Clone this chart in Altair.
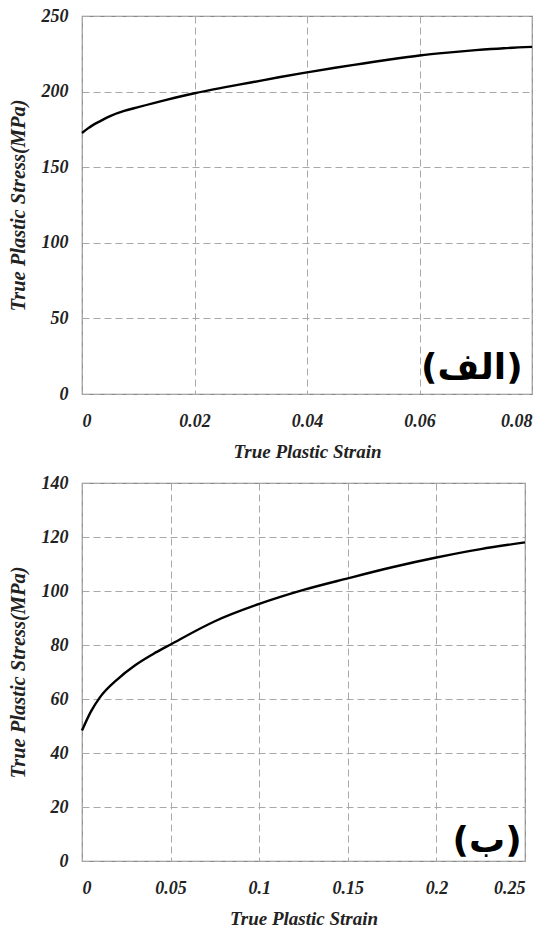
import altair as alt
import pandas as pd

# Panel (الف)
strain_a = [0.0, 0.001, 0.002, 0.003, 0.005, 0.0075, 0.01, 0.015, 0.02, 0.025, 0.03,
            0.035, 0.04, 0.045, 0.05, 0.055, 0.06, 0.065, 0.07, 0.075, 0.08]
stress_a = [172.6, 175.5, 178.0, 180.0, 183.8, 187.2, 189.7, 194.5, 198.9, 202.6, 206.0,
            209.5, 212.7, 215.8, 218.6, 221.4, 223.9, 225.8, 227.4, 228.7, 229.6]

# Panel (ب)
strain_b = [0.0, 0.005, 0.01, 0.02, 0.03, 0.04, 0.05, 0.075, 0.1, 0.125,
            0.15, 0.175, 0.2, 0.225, 0.25]
stress_b = [48.3, 55.3, 60.5, 67.3, 72.5, 76.6, 80.2, 88.8, 95.2, 100.4,
            104.7, 108.8, 112.4, 115.5, 118.0]

x_ticks_a = [0, 0.02, 0.04, 0.06, 0.08]
y_ticks_a = [0, 50, 100, 150, 200, 250]
x_ticks_b = [0, 0.05, 0.1, 0.15, 0.2, 0.25]
y_ticks_b = [0, 20, 40, 60, 80, 100, 120, 140]

tag_a = ["(الف)"]
tag_a_pos = [0.0693, 17.2]
tag_b = ["(ب)"]
tag_b_pos = [0.2286, 7.4]

SERIF = "'Liberation Serif', 'Times New Roman', 'DejaVu Serif', serif"


def panel(xs, ys, xdom, xticks, ydom, yticks, w, h, tag, tagpos):
    df = pd.DataFrame({"strain": xs, "stress": ys})
    tdf = pd.DataFrame({"strain": [tagpos[0]], "stress": [tagpos[1]], "tag": tag})
    xenc = alt.X(
        "strain:Q",
        scale=alt.Scale(domain=xdom, nice=False, zero=False),
        axis=alt.Axis(values=xticks, format="~g", title="True Plastic Strain"),
    )
    yenc = alt.Y(
        "stress:Q",
        scale=alt.Scale(domain=ydom, nice=False, zero=False),
        axis=alt.Axis(values=yticks, format="d", title="True Plastic Stress(MPa)",
                      titleFontSize=20.5, titlePadding=13),
    )
    line = alt.Chart(df).mark_line(color="black", strokeWidth=2.4, interpolate="monotone").encode(
        x=xenc, y=yenc
    )
    text = alt.Chart(tdf).mark_text(
        font="DejaVu Sans", fontWeight="bold", fontSize=36, color="black",
        align="center", baseline="middle"
    ).encode(x="strain:Q", y="stress:Q", text="tag:N")
    return alt.layer(line, text).properties(width=w, height=h)


top = panel(strain_a, stress_a, [0, 0.08], x_ticks_a, [0, 250], y_ticks_a, 450, 378, tag_a, tag_a_pos)
bottom = panel(strain_b, stress_b, [0, 0.25], x_ticks_b, [0, 140], y_ticks_b, 443, 378, tag_b, tag_b_pos)

chart = alt.vconcat(top, bottom, spacing=11).properties(
    padding={"left": 7, "top": 6, "right": 0, "bottom": 0}
).configure_view(
    stroke="#888888", strokeWidth=1.2
).configure_axis(
    grid=True,
    gridColor="#a8a8a8",
    gridDash=[7, 4],
    gridWidth=1,
    domain=False,
    ticks=False,
    tickSize=0,
    labelFont=SERIF,
    labelFontSize=18,
    labelFontWeight="bold",
    labelFontStyle="italic",
    labelColor="#222222",
    titleFont=SERIF,
    titleFontSize=19,
    titleFontWeight="bold",
    titleFontStyle="italic",
    titleColor="#222222",
).configure_axisX(
    labelPadding=18, titlePadding=12
).configure_axisY(
    labelPadding=14
)

chart.save("out.html", embed_options={"renderer": "svg", "actions": False})
